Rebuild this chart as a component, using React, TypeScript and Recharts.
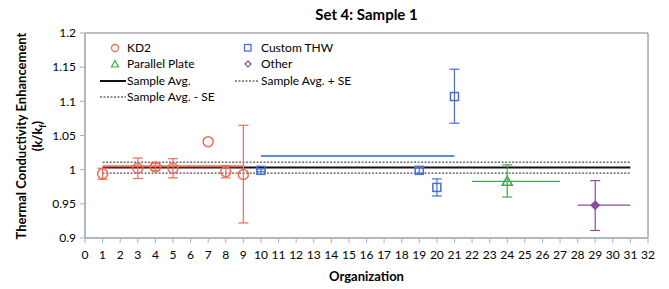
import React from 'react';
import { ComposedChart, Scatter, XAxis, YAxis, ErrorBar, ReferenceLine, ReferenceArea } from 'recharts';

const xTicks = [0, 1, 2, 3, 4, 5, 6, 7, 8, 9, 10, 11, 12, 13, 14, 15, 16, 17, 18, 19, 20, 21, 22, 23, 24, 25, 26, 27, 28, 29, 30, 31, 32];
const yTicks = [0.9, 0.95, 1, 1.05, 1.1, 1.15, 1.2];

const kd2 = [
  { x: 1, y: 0.994, ey: 0.008 },
  { x: 3, y: 1.002, ey: 0.015 },
  { x: 4, y: 1.004, ey: 0.005 },
  { x: 5, y: 1.002, ey: 0.014 },
  { x: 7, y: 1.041, ey: 0 },
  { x: 8, y: 0.997, ey: 0.009 },
  { x: 9, y: 0.993, ey: [0.071, 0.072] },
];
const customTHW = [
  { x: 10, y: 0.999, ey: 0.002 },
  { x: 19, y: 0.999, ey: 0.004 },
  { x: 20, y: 0.974, ey: 0.0125 },
  { x: 21, y: 1.107, ey: [0.039, 0.04] },
];
const parallelPlate = [{ x: 24, y: 0.983, ey: [0.023, 0.024], ex: [2, 3] }];
const other = [{ x: 29, y: 0.948, ey: [0.037, 0.036], ex: [1, 2] }];

const sampleAvg = 1.003;
const sampleAvgPlusSE = 1.011;
const sampleAvgMinusSE = 0.995;
const avgRange = [1, 31];
const kd2Avg = 1.005;
const kd2Range = [1, 9];
const thwLine = 1.02;
const thwRange = [10, 21];

const RED = '#EF6A55';
const BLUE = '#4A6FCF';
const GREEN = '#3DAA4A';
const PURPLE = '#8E4C9C';
const AXIS = '#9FB2C8';
const FONT = 'Lato, "Open Sans", sans-serif';

const Circle = (p: any) => <circle cx={p.cx} cy={p.cy} r={5} fill="none" stroke={RED} strokeWidth={1.5} />;
const Square = (p: any) => <rect x={p.cx - 4} y={p.cy - 4} width={8} height={8} fill="none" stroke={BLUE} strokeWidth={1.5} />;
const Triangle = (p: any) => (
  <polygon points={`${p.cx},${p.cy - 5} ${p.cx + 5},${p.cy + 4} ${p.cx - 5},${p.cy + 4}`} fill="none" stroke={GREEN} strokeWidth={1.5} />
);
const Diamond = (p: any) => (
  <polygon points={`${p.cx},${p.cy - 4} ${p.cx + 4},${p.cy} ${p.cx},${p.cy + 4} ${p.cx - 4},${p.cy}`} fill={PURPLE} stroke={PURPLE} strokeWidth={1.5} />
);

const legendText: React.CSSProperties = { position: 'absolute', fontSize: 12, fontFamily: FONT, color: '#000', lineHeight: '14px' };

export default function App() {
  return (
    <div style={{ position: 'absolute', left: 0, top: 0, width: 669, height: 289, background: '#fff', fontFamily: FONT }}>
      <ComposedChart width={669} height={289} margin={{ top: 33, right: 21, bottom: 28, left: 0 }}>
        <XAxis
          type="number"
          dataKey="x"
          domain={[0, 32]}
          ticks={xTicks}
          interval={0}
          height={23}
          tickSize={5}
          tickMargin={7}
          stroke={AXIS}
          tick={{ fill: '#000', fontSize: 12, fontFamily: FONT }}
          allowDataOverflow
        />
        <YAxis
          type="number"
          dataKey="y"
          domain={[0.9, 1.2]}
          ticks={yTicks}
          interval={0}
          width={85}
          tickSize={5}
          tickMargin={4}
          stroke={AXIS}
          tick={{ fill: '#000', fontSize: 12, fontFamily: FONT }}
          allowDataOverflow
        />
        <ReferenceArea x1={0} x2={32} y1={0.9} y2={1.2} fill="none" stroke="#7f7f7f" strokeWidth={1} ifOverflow="visible" />
        <ReferenceLine segment={[{ x: avgRange[0], y: sampleAvgPlusSE }, { x: avgRange[1], y: sampleAvgPlusSE }]} stroke="#222" strokeWidth={1} strokeDasharray="2 1.5" />
        <ReferenceLine segment={[{ x: avgRange[0], y: sampleAvgMinusSE }, { x: avgRange[1], y: sampleAvgMinusSE }]} stroke="#222" strokeWidth={1} strokeDasharray="2 1.5" />
        <ReferenceLine segment={[{ x: avgRange[0], y: sampleAvg }, { x: avgRange[1], y: sampleAvg }]} stroke="#111" strokeWidth={2} />
        <ReferenceLine segment={[{ x: kd2Range[0], y: kd2Avg }, { x: kd2Range[1], y: kd2Avg }]} stroke={RED} strokeWidth={2} />
        <ReferenceLine segment={[{ x: thwRange[0], y: thwLine }, { x: thwRange[1], y: thwLine }]} stroke="#5B8BE0" strokeWidth={2} />
        <Scatter data={kd2} dataKey="y" shape={Circle} isAnimationActive={false}>
          <ErrorBar dataKey="ey" direction="y" width={5} stroke={RED} strokeWidth={1.2} />
        </Scatter>
        <Scatter data={customTHW} dataKey="y" shape={Square} isAnimationActive={false}>
          <ErrorBar dataKey="ey" direction="y" width={5} stroke={BLUE} strokeWidth={1.2} />
        </Scatter>
        <Scatter data={parallelPlate} dataKey="y" shape={Triangle} isAnimationActive={false}>
          <ErrorBar dataKey="ey" direction="y" width={5} stroke={GREEN} strokeWidth={1.2} />
          <ErrorBar dataKey="ex" direction="x" width={0} stroke={GREEN} strokeWidth={1.2} />
        </Scatter>
        <Scatter data={other} dataKey="y" shape={Diamond} isAnimationActive={false}>
          <ErrorBar dataKey="ey" direction="y" width={5} stroke={PURPLE} strokeWidth={1.2} />
          <ErrorBar dataKey="ex" direction="x" width={0} stroke={PURPLE} strokeWidth={1.2} />
        </Scatter>
      </ComposedChart>

      <div style={{ position: 'absolute', left: 0, width: 733, top: 5, textAlign: 'center', fontSize: 15, fontWeight: 700 }}>Set 4: Sample 1</div>
      <div style={{ position: 'absolute', left: 0, width: 733, top: 268, textAlign: 'center', fontSize: 13, fontWeight: 700 }}>Organization</div>
      <div
        style={{
          position: 'absolute',
          left: 30 - 120,
          top: 136 - 17,
          width: 240,
          height: 34,
          transform: 'rotate(-90deg)',
          textAlign: 'center',
          fontSize: 13,
          fontWeight: 700,
          lineHeight: '16px',
        }}
      >
        Thermal Conductivity Enhancement
        <br />
        (k/k<sub style={{ fontSize: 9, verticalAlign: 'sub', lineHeight: 0 }}>f</sub>)
      </div>

      <svg style={{ position: 'absolute', left: 0, top: 0 }} width={669} height={289} pointerEvents="none">
        <circle cx={115} cy={48} r={3.5} fill="none" stroke={RED} strokeWidth={1.3} />
        <rect x={244.5} y={44.5} width={6.5} height={6.5} fill="none" stroke={BLUE} strokeWidth={1.3} />
        <polygon points="115,60.5 118.5,67 111.5,67" fill="none" stroke={GREEN} strokeWidth={1.2} />
        <polygon points="248,61 251,64 248,67 245,64" fill="none" stroke={PURPLE} strokeWidth={1.2} />
        <line x1={100} x2={126} y1={81} y2={81} stroke="#111" strokeWidth={2} />
        <line x1={235} x2={259} y1={81} y2={81} stroke="#222" strokeWidth={1} strokeDasharray="2 1.5" />
        <line x1={100} x2={126} y1={97} y2={97} stroke="#222" strokeWidth={1} strokeDasharray="2 1.5" />
      </svg>
      <div style={{ ...legendText, left: 127, top: 41 }}>KD2</div>
      <div style={{ ...legendText, left: 261, top: 41 }}>Custom THW</div>
      <div style={{ ...legendText, left: 127, top: 57 }}>Parallel Plate</div>
      <div style={{ ...legendText, left: 261, top: 57 }}>Other</div>
      <div style={{ ...legendText, left: 127, top: 74 }}>Sample Avg.</div>
      <div style={{ ...legendText, left: 261, top: 74 }}>Sample Avg. + SE</div>
      <div style={{ ...legendText, left: 127, top: 90 }}>Sample Avg. - SE</div>
    </div>
  );
}
